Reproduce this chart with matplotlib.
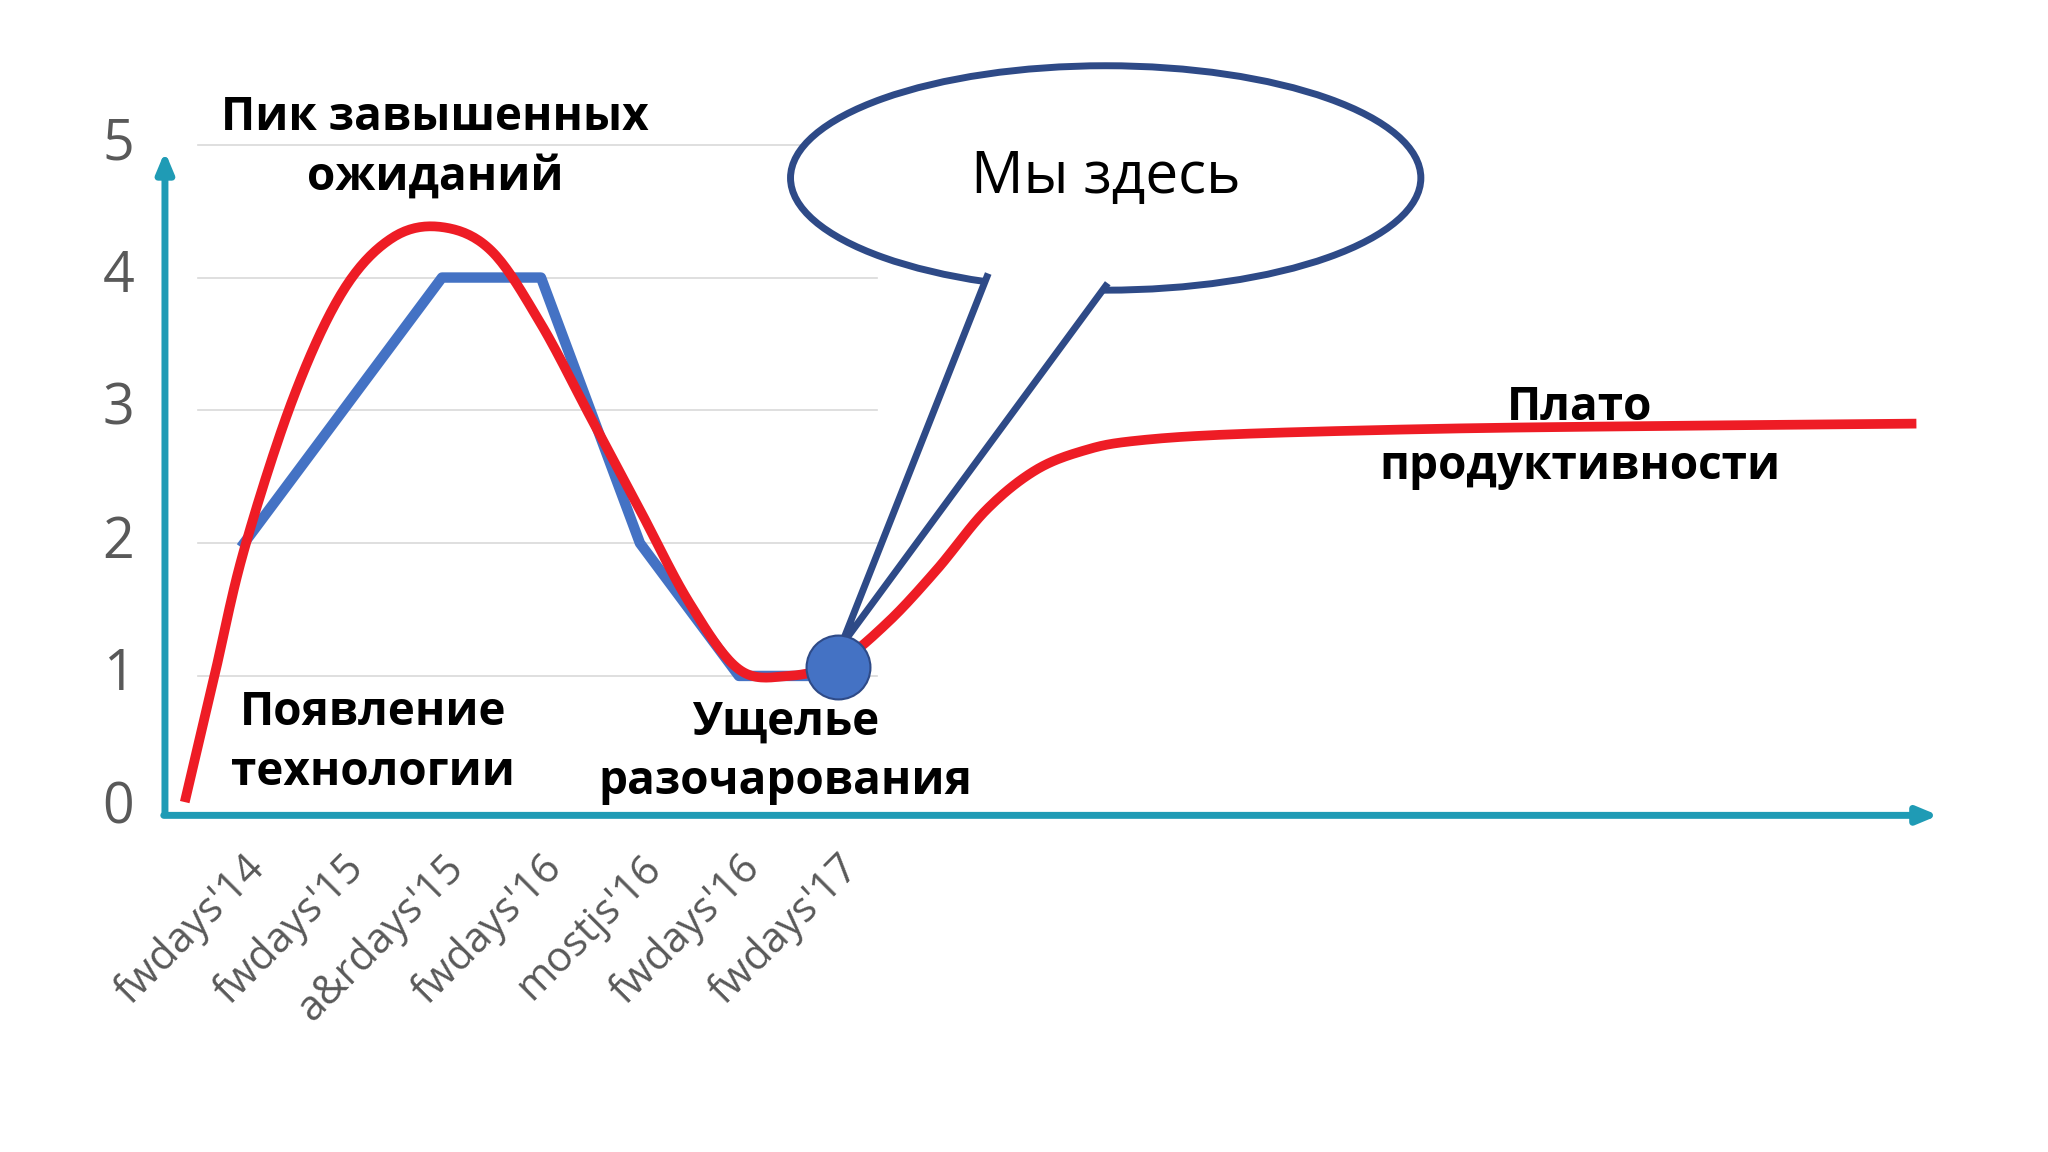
import numpy as np
from matplotlib import pyplot as plt
from matplotlib.patches import Ellipse, Polygon

plt.rcParams['font.family'] = ['Open Sans', 'DejaVu Sans']

# data
events = ["fwdays'14", "fwdays'15", "a&rdays'15", "fwdays'16", "mostjs'16", "fwdays'16", "fwdays'17"]
ratings = [2, 3, 4, 4, 2, 1, 1]

# hype curve
hype_x = [-0.6, -0.3, 0, 0.5, 1, 1.5, 2, 2.5, 3, 3.5, 4, 4.5, 5, 5.5, 6, 6.5, 7, 7.5, 8, 8.5, 9, 10, 12, 14, 16.9]
hype_y = [0.05, 1.0, 1.95, 3.1, 3.9, 4.3, 4.38, 4.2, 3.65, 2.95, 2.25, 1.55, 1.05, 1.0, 1.1, 1.4, 1.8, 2.25, 2.55, 2.7, 2.77, 2.82, 2.86, 2.88, 2.9]
here_x, here_y = 6, 1.07

def catmull(xs, ys, n=20):
    P = np.column_stack([xs, ys])
    P = np.vstack([P[0], P, P[-1]])
    out = []
    t = np.linspace(0, 1, n, endpoint=False)[:, None]
    for i in range(1, len(P) - 2):
        p0, p1, p2, p3 = P[i-1], P[i], P[i+1], P[i+2]
        out.append(0.5*((2*p1) + (-p0+p2)*t + (2*p0-5*p1+4*p2-p3)*t**2 + (-p0+3*p1-3*p2+p3)*t**3))
    out.append(P[-2][None, :])
    return np.vstack(out)

fig = plt.figure(figsize=(20.48, 11.52), dpi=100)
ax = fig.add_axes([0, 0, 1, 1])
ax.set_xlim(-2.467, 18.23)
ax.set_ylim(-2.585, 6.09)
ax.axis('off')

teal = '#1f9bb5'
gray = '#595959'

# grid
for v in range(1, 6):
    ax.plot([-0.47, 6.4], [v, v], color='#d9d9d9', lw=1.2, zorder=1)

# axes with arrows
ax.annotate('', xy=(-0.8, 4.97), xytext=(-0.8, -0.05),
            arrowprops=dict(arrowstyle='-|>,head_length=1.2,head_width=0.5', color=teal, lw=5))
ax.annotate('', xy=(17.15, -0.05), xytext=(-0.84, -0.05),
            arrowprops=dict(arrowstyle='-|>,head_length=1.2,head_width=0.5', color=teal, lw=5))

for v in range(6):
    ax.text(-1.27, v, str(v), fontsize=40, color=gray, ha='center', va='center')
for i, name in enumerate(events):
    ax.text(i + 0.15, -0.4, name, fontsize=30, color=gray, ha='right', va='center',
            rotation=45, rotation_mode='anchor')

ax.plot(range(len(ratings)), ratings, color='#4472c4', lw=7.5, zorder=3)
c = catmull(hype_x, hype_y)
ax.plot(c[:, 0], c[:, 1], color='#ee1c25', lw=7, zorder=4, solid_capstyle='butt')

# speech bubble
navy = '#2e4a87'
ell = Ellipse((8.707, 4.75), 6.37, 1.69, facecolor='white', edgecolor=navy, lw=5, zorder=5)
ax.add_patch(ell)
tail = [(7.507, 4.006), (here_x + 0.03, 1.223), (8.707, 3.936)]
ax.add_patch(Polygon(tail + [(8.707, 4.3), (7.507, 4.3)], closed=True, facecolor='white',
                     edgecolor='none', zorder=6))
ax.plot([7.507, here_x + 0.03, 8.707], [4.006, 1.223, 3.936], color=navy, lw=5, zorder=7)
ax.text(8.707, 4.75, 'Мы здесь', fontsize=42, ha='center', va='center', zorder=8)

ax.plot(here_x, here_y, 'o', color='#4472c4', ms=46, mec='#2e4a87', mew=1.5, zorder=9)

lbl = dict(fontsize=33, fontweight='bold', ha='center', va='center', linespacing=1.35, zorder=10)
ax.text(1.93, 4.98, 'Пик завышенных\nожиданий', **lbl)
ax.text(1.3, 0.5, 'Появление\nтехнологии', **lbl)
ax.text(5.47, 0.43, 'Ущелье\nразочарования', **lbl)
ax.text(13.5, 2.8, 'Плато\nпродуктивности', **lbl)

fig.savefig('out.png')
